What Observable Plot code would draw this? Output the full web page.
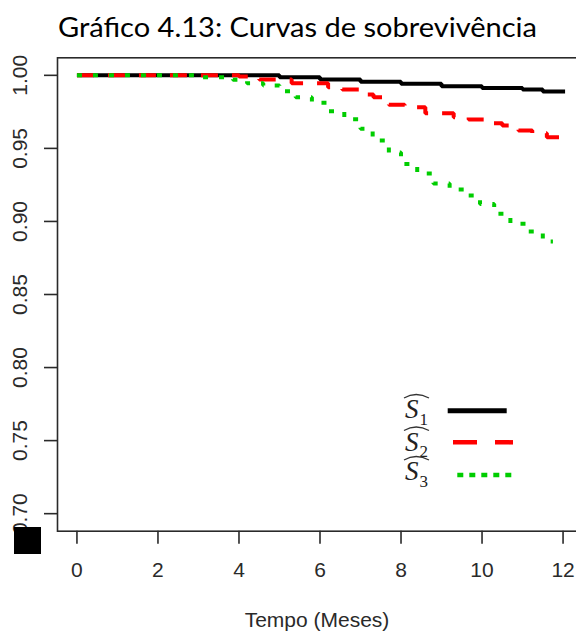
<!DOCTYPE html>
<html>
<head>
<meta charset="utf-8">
<script src="https://cdn.jsdelivr.net/npm/d3@7"></script>
<script src="https://cdn.jsdelivr.net/npm/@observablehq/plot@0.6"></script>
<style>
  html, body { margin: 0; padding: 0; background: #fff; }
  #wrap { position: relative; width: 576px; height: 631px; overflow: hidden; background: #fff; }
  #wrap > svg { position: absolute; left: 0; top: 0; }
  #overlay { pointer-events: none; }
  #corner { position: absolute; left: 14px; top: 527px; width: 27px; height: 27px; background: #000; }
</style>
</head>
<body>
<div id="wrap"></div>
<script>
// Kaplan–Meier style survival estimates, months 0–12
const s1Time  = [0, 5, 6, 7, 8, 9, 10, 11, 11.5, 12.05];
const s1Surv  = [1.0, 0.9987, 0.9971, 0.9956, 0.9942, 0.9925, 0.9914, 0.9903, 0.9889, 0.9889];

const s2Time  = [0, 4.0, 4.5, 5.3, 6.2, 6.55, 7.0, 7.32, 7.7, 8.09, 8.6, 9.3, 9.67, 10.1, 10.5, 10.9, 11.24, 11.6, 12.06];
const s2Surv  = [1.0, 0.9992, 0.9971, 0.9946, 0.9919, 0.9903, 0.9869, 0.9850, 0.9798, 0.9782, 0.9741, 0.9713, 0.9697, 0.9672, 0.9656, 0.9622, 0.9604, 0.9576, 0.9576];

const s3Time  = [0, 3.0, 3.85, 4.2, 4.6, 5.0, 5.4, 5.8, 6.2, 6.6, 7.0, 7.3, 7.7, 8.0, 8.4, 8.8, 9.2, 9.6, 9.95, 10.3, 10.7, 11.1, 11.5, 11.75];
const s3Surv  = [1.0, 0.9987, 0.9969, 0.9946, 0.9930, 0.9891, 0.9850, 0.9812, 0.9754, 0.9700, 0.9634, 0.9554, 0.9472, 0.9394, 0.9328, 0.9259, 0.9218, 0.9177, 0.9120, 0.9052, 0.8984, 0.8931, 0.8862, 0.8862];

const xTicks = [0, 2, 4, 6, 8, 10, 12];
const yTicks = [0.70, 0.75, 0.80, 0.85, 0.90, 0.95, 1.00];

const titleText = "Gráfico 4.13: Curvas de sobrevivência";
const xLabel = "Tempo (Meses)";
const seriesNames = ["1", "2", "3"];

const toRows = (t, s) => t.map((d, i) => ({t: d, s: s[i]}));
const s1 = toRows(s1Time, s1Surv);
const s2 = toRows(s2Time, s2Surv);
const s3 = toRows(s3Time, s3Surv);

const axisColor = "#2a2a2a";

const chart = Plot.plot({
  width: 582,
  height: 631,
  marginTop: 57.3,
  marginBottom: 100.3,
  marginLeft: 57,
  marginRight: 0,
  x: {domain: [-0.48, 12.48]},
  y: {domain: [0.688, 1.012]},
  style: {fontFamily: "'Liberation Sans', Arial, sans-serif", fontSize: "21px", color: axisColor, background: "transparent"},
  marks: [
    Plot.frame({stroke: axisColor, strokeWidth: 1.6}),
    Plot.axisX(xTicks, {tickSize: 13, tickPadding: 18, fontSize: 21, label: null, stroke: axisColor, strokeWidth: 1.6}),
    Plot.axisY(yTicks, {tickSize: 13, tickFormat: () => "", label: null, stroke: axisColor, strokeWidth: 1.6}),
    Plot.text(yTicks, {y: d => d, text: d => d.toFixed(2), frameAnchor: "left", dx: -37, rotate: -90, textAnchor: "middle", lineAnchor: "middle", fontSize: 21, fill: axisColor}),
    Plot.line(s1, {x: "t", y: "s", curve: "step-after", stroke: "#000", strokeWidth: 4, strokeLinecap: "butt", strokeLinejoin: "miter"}),
    Plot.line(s2, {x: "t", y: "s", curve: "step-after", stroke: "#ff0000", strokeWidth: 4, strokeDasharray: "17,14", strokeLinecap: "butt", strokeLinejoin: "miter"}),
    Plot.line(s3, {x: "t", y: "s", curve: "step-after", stroke: "#00cd00", strokeWidth: 4, strokeDasharray: "5,11", strokeLinecap: "butt", strokeLinejoin: "miter"})
  ]
});
chart.style.maxWidth = "none";
chart.style.height = "631px";

const wrap = document.getElementById("wrap");
wrap.appendChild(chart);

// Title, x label and legend drawn on top of the plot
const ns = "http://www.w3.org/2000/svg";
const overlay = d3.select(wrap).append("svg")
  .attr("id", "overlay")
  .attr("xmlns", ns)
  .attr("width", 576)
  .attr("height", 631);

overlay.append("text")
  .attr("x", 58).attr("y", 36.7)
  .attr("textLength", 479).attr("lengthAdjust", "spacingAndGlyphs")
  .style("font-family", "Lato, 'Open Sans', sans-serif")
  .style("font-size", "26px")
  .attr("fill", "#000")
  .text(titleText);

overlay.append("text")
  .attr("x", 317).attr("y", 626.7)
  .attr("text-anchor", "middle")
  .style("font-family", "'Liberation Sans', Arial, sans-serif")
  .style("font-size", "21px")
  .attr("fill", axisColor)
  .text(xLabel);

const legend = overlay.append("g");
const rowBase = [418, 450.5, 480];
const swatchY = [410.7, 442.3, 475];
const swatches = [
  {stroke: "#000", width: 5, dash: null, x1: 447.7, x2: 506.7},
  {stroke: "#ff0000", width: 4.5, dash: "24,18", x1: 453, x2: 513},
  {stroke: "#00cd00", width: 4.5, dash: "6,6", x1: 457.3, x2: 512}
];
seriesNames.forEach((name, i) => {
  const base = rowBase[i];
  const label = legend.append("text")
    .attr("x", 405).attr("y", base)
    .style("font-family", "'Liberation Serif', 'DejaVu Serif', serif")
    .style("font-style", "italic")
    .style("font-size", "27px")
    .attr("fill", "#222");
  label.append("tspan").text("S");
  label.append("tspan")
    .attr("dy", 6.5).attr("dx", 1)
    .style("font-size", "17px")
    .style("font-style", "normal")
    .text(name);
  legend.append("path")
    .attr("d", `M404,${base - 20} Q416,${base - 27} 429,${base - 20}`)
    .attr("fill", "none").attr("stroke", "#333").attr("stroke-width", 1.3);
  const sw = swatches[i];
  legend.append("line")
    .attr("x1", sw.x1).attr("x2", sw.x2)
    .attr("y1", swatchY[i]).attr("y2", swatchY[i])
    .attr("stroke", sw.stroke).attr("stroke-width", sw.width)
    .attr("stroke-dasharray", sw.dash)
    .attr("stroke-linecap", "butt");
});

const corner = document.createElement("div");
corner.id = "corner";
wrap.appendChild(corner);
</script>
</body>
</html>
